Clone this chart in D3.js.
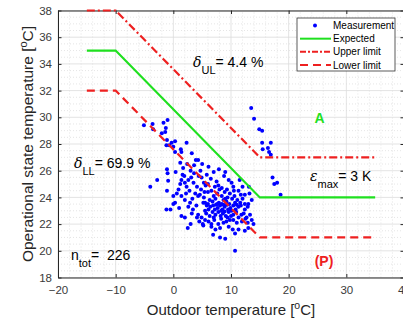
<!DOCTYPE html>
<html>
<head>
<meta charset="utf-8">
<script src="https://cdn.jsdelivr.net/npm/d3@7"></script>
<style>
  body { margin: 0; background: #fff; }
  svg { display: block; font-family: "Liberation Sans", Arial, sans-serif; }
</style>
</head>
<body>
<div id="chart"></div>
<script>
// --- data ---
const xTicks = [-20, -10, 0, 10, 20, 30, 40];
const yTicks = [18, 20, 22, 24, 26, 28, 30, 32, 34, 36, 38];

// piecewise lines: [outdoor temp, operational temp]
const expected   = [[-15, 35], [-10, 35], [15, 24], [35, 24]];
const upperLimit = [[-15, 38], [-10, 38], [15, 27], [35, 27]];
const lowerLimit = [[-15, 32], [-10, 32], [15, 21], [35, 21]];

// measurements (estimated from the scatter)
const measurement = [
  // upper-left group
  [-5.1,29.4],[-3.6,29.5],[-3.5,29.1],[-2.0,28.8],[-1.7,29.6],[-1.3,29.2],[-1.0,29.8],[-1.4,28.9],[-1.1,28.3],[-0.7,27.9],
  [-0.3,28.1],[0.0,27.8],[0.3,28.2],[1.3,27.6],[2.3,28.1],[1.4,27.4],[3.2,27.3],[3.9,26.8],[0.3,27.4],[-1.2,27.9],
  // left band
  [1.2,26.6],[-1.1,26.1],[-1.0,25.8],[-0.9,25.25],[-1.1,24.5],[-4.0,24.8],[-2.8,25.3],[-1.2,23.1],[-0.5,23.1],[0.3,23.6],
  [0.6,24.3],[0.9,24.6],[0.0,24.1],[1.2,25.0],[1.4,25.3],[1.6,25.7],[1.9,25.6],[2.0,25.1],[2.3,24.8],[2.6,25.3],
  [3.1,25.5],[3.5,25.1],[4.1,24.8],[3.8,24.3],[4.3,24.1],[1.4,24.1],[2.0,23.8],[2.6,23.3],[1.4,22.6],[2.0,22.5],
  [3.2,22.8],[4.1,22.5],[4.5,22.2],[0.0,23.5],[1.7,26.2],[2.4,26.5],[3.0,26.0],[2.8,24.5],[3.3,23.9],[1.0,23.2],
  [2.2,24.3],[3.6,25.8],[4.4,25.6],[2.9,23.6],[0.4,25.9],
  // main cluster
  [4.3,26.8],[6.1,26.3],[5.0,26.5],[7.9,26.1],
  [4.9,25.5],[5.8,25.7],[7.5,25.2],[6.5,25.4],[8.8,25.6],[10.1,25.1],[5.3,25.1],[9.6,25.3],
  [7.2,24.8],[7.8,24.9],[9.3,24.6],[11.3,24.5],[6.6,24.5],[8.4,24.7],[5.6,24.9],[10.4,24.8],[4.8,24.6],
  [12.4,24.2],[9.8,24.3],[8.4,24.1],[4.6,24.2],[6.0,24.4],[7.0,24.1],[7.6,24.3],[8.9,24.4],[10.6,24.1],[11.7,24.2],
  [5.3,24.0],[9.4,24.0],[13.2,24.3],
  [6.3,23.8],[5.5,23.6],[10.7,23.6],[12.4,23.5],[13.6,23.8],[5.2,23.6],[8.4,23.5],[13.0,23.5],[6.8,23.7],[7.3,23.9],
  [7.9,23.6],[8.7,23.8],[9.2,23.7],[9.7,23.5],[10.2,23.9],[11.1,23.8],[11.6,23.6],[12.0,23.9],[6.0,23.5],[7.6,23.5],[9.0,23.9],
  [9.5,23.1],[11.3,23.3],[12.4,23.1],[5.5,23.0],[7.2,23.1],[6.4,23.3],[6.9,23.4],[7.7,23.2],[8.1,23.4],[8.5,23.1],
  [8.9,23.3],[9.3,23.45],[9.9,23.2],[10.4,23.4],[10.8,23.1],[11.7,23.4],[12.9,23.3],[7.4,23.45],[8.3,23.0],[6.1,23.1],
  [10.1,23.0],[5.8,23.4],[8.7,23.45],[11.0,23.45],
  [11.8,22.7],[10.4,22.7],[12.7,22.5],[4.3,22.7],[4.9,22.5],[5.7,22.8],[6.3,22.6],[6.8,22.9],[7.3,22.7],[7.8,22.9],
  [8.2,22.6],[8.6,22.8],[9.1,22.6],[9.6,22.9],[10.0,22.6],[10.9,22.9],[11.3,22.5],[12.2,22.8],[13.3,22.7],[7.0,22.5],
  [8.9,22.95],[9.4,22.5],
  [9.8,22.3],[8.7,22.1],[7.8,22.0],[6.1,22.2],[13.6,22.3],[13.9,22.0],[5.5,22.3],[7.1,22.3],[8.3,22.4],[9.2,22.2],
  [10.4,22.3],[11.0,22.1],[11.9,22.2],[12.5,22.4],[6.6,22.0],
  [6.6,21.8],[11.3,21.6],[12.4,21.5],[13.0,21.7],[8.1,21.7],[9.6,21.8],[10.3,21.6],[5.2,21.9],[7.3,21.6],
  [8.1,21.0],[9.0,20.9],[6.9,21.2],[10.7,21.3],
  [10.7,20.0],
  // right group
  [13.5,30.7],[14.0,29.9],[14.9,29.1],[15.4,29.0],[15.4,28.1],[15.5,27.6],[16.4,27.7],[16.9,28.1],[16.6,27.4],[16.9,27.2],
  [17.2,25.5],[17.5,25.0],[18.0,25.1],[18.6,24.2],
  // extra scattered
  [3.6,26.4],[4.7,26.0],[5.4,24.4],[3.0,22.0],[2.5,21.7],[6.0,25.0],[12.0,24.8],[13.1,24.8],[11.5,25.3],[9.0,25.9],
  [4.0,23.4],[3.4,23.1],[5.1,22.0],[12.9,22.1],[10.5,24.5],[8.0,24.6],[7.0,25.9]
];

const legendLabels = ["Measurement", "Expected", "Upper limit", "Lower limit"];

// --- setup ---
const width = 403, height = 321;
const axisColor = "#262626";
const green = "#1fe01f", red = "#ee2020", blue = "#0000ff";

const x = d3.scaleLinear().domain([-20, 40]).range([58, 404]);
const y = d3.scaleLinear().domain([18, 38]).range([277.5, 10.5]);

const svg = d3.select("#chart").append("svg")
    .attr("width", width)
    .attr("height", height);

// grid: minor dotted, major solid
const xMinor = d3.range(-20, 40.01, 2).filter(v => v % 10 !== 0);
const yMinor = d3.range(18, 38.01, 0.5).filter(v => Math.abs(v % 2) > 0.01);

svg.append("g").selectAll("line").data(xMinor).join("line")
    .attr("x1", d => x(d)).attr("x2", d => x(d))
    .attr("y1", y(18)).attr("y2", y(38))
    .attr("stroke", "#d4d4d4").attr("stroke-width", 0.6)
    .attr("stroke-dasharray", "1,2");
svg.append("g").selectAll("line").data(yMinor).join("line")
    .attr("x1", x(-20)).attr("x2", x(40))
    .attr("y1", d => y(d)).attr("y2", d => y(d))
    .attr("stroke", "#d4d4d4").attr("stroke-width", 0.6)
    .attr("stroke-dasharray", "1,2");
svg.append("g").selectAll("line").data(xTicks).join("line")
    .attr("x1", d => x(d)).attr("x2", d => x(d))
    .attr("y1", y(18)).attr("y2", y(38))
    .attr("stroke", "#dcdcdc").attr("stroke-width", 0.8);
svg.append("g").selectAll("line").data(yTicks).join("line")
    .attr("x1", x(-20)).attr("x2", x(40))
    .attr("y1", d => y(d)).attr("y2", d => y(d))
    .attr("stroke", "#dcdcdc").attr("stroke-width", 0.8);

// axes (ticks inside, box on)
const styleAxis = g => {
  g.select(".domain").attr("stroke", axisColor);
  g.selectAll(".tick line").attr("stroke", axisColor);
  g.selectAll(".tick text").attr("fill", "#3a3a3a")
    .attr("font-size", "11.5px").attr("font-family", "Liberation Sans, Arial, sans-serif");
};
svg.append("g").attr("transform", `translate(0,${y(18)})`)
    .call(d3.axisBottom(x).tickValues(xTicks).tickSize(-3.5).tickPadding(8).tickSizeOuter(0))
    .call(styleAxis);
svg.append("g").attr("transform", `translate(${x(-20)},0)`)
    .call(d3.axisLeft(y).tickValues(yTicks).tickSize(-3.5).tickPadding(6).tickSizeOuter(0))
    .call(styleAxis);
svg.append("g").attr("transform", `translate(0,${y(38)})`)
    .call(d3.axisTop(x).tickValues(xTicks).tickSize(-3.5).tickFormat("").tickSizeOuter(0))
    .call(styleAxis);
svg.append("g").attr("transform", `translate(${x(40)},0)`)
    .call(d3.axisRight(y).tickValues(yTicks).tickSize(-3.5).tickFormat("").tickSizeOuter(0))
    .call(styleAxis);

// measurements
svg.append("g").selectAll("circle").data(measurement).join("circle")
    .attr("cx", d => x(d[0]))
    .attr("cy", d => y(d[1]))
    .attr("r", 2)
    .attr("fill", blue);

// limit lines
const line = d3.line().x(d => x(d[0])).y(d => y(d[1]));
svg.append("path").datum(expected).attr("d", line)
    .attr("fill", "none").attr("stroke", green).attr("stroke-width", 2.2);
svg.append("path").datum(upperLimit).attr("d", line)
    .attr("fill", "none").attr("stroke", red).attr("stroke-width", 2.2)
    .attr("stroke-dasharray", "8,3,2,3");
svg.append("path").datum(lowerLimit).attr("d", line)
    .attr("fill", "none").attr("stroke", red).attr("stroke-width", 2.2)
    .attr("stroke-dasharray", "8,5");

// annotations
function subText(xp, yp, main, sub, rest, italicMain) {
  const t = svg.append("text").attr("x", xp).attr("y", yp)
      .attr("font-size", "14px").attr("fill", "#000")
      .style("white-space", "pre");
  t.append("tspan").text(main).attr("font-style", italicMain ? "italic" : null)
      .attr("font-family", italicMain ? "DejaVu Serif, serif" : null);
  t.append("tspan").text(sub).attr("font-size", "11px").attr("dy", 7);
  t.append("tspan").text(rest).attr("dy", -7);
}
subText(193, 67, "δ", "UL", "= 4.4 %", true);
subText(74, 168, "δ", "LL", "= 69.9 %", true);
subText(71, 260, "n", "tot", "=\u00a0\u00a0226", false);
subText(310, 181, "ε", "max", "= 3 K", true);

svg.append("text").attr("x", 319.5).attr("y", 123).attr("text-anchor", "middle")
    .attr("font-size", "14px").attr("font-weight", "bold").attr("fill", green).text("A");
svg.append("text").attr("x", 324).attr("y", 266).attr("text-anchor", "middle")
    .attr("font-size", "14px").attr("font-weight", "bold").attr("fill", red).text("(P)");

// axis labels
const xl = svg.append("text").attr("x", 231).attr("y", 315).attr("text-anchor", "middle")
    .attr("font-size", "15px").attr("fill", axisColor);
xl.append("tspan").text("Outdoor temperature [");
xl.append("tspan").text("o").attr("font-size", "10.5px").attr("dy", -6);
xl.append("tspan").text("C]").attr("dy", 6);

const yl = svg.append("text").attr("transform", "translate(33,144) rotate(-90)")
    .attr("text-anchor", "middle").attr("font-size", "15.5px").attr("fill", axisColor);
yl.append("tspan").text("Operational state temperature [");
yl.append("tspan").text("o").attr("font-size", "11px").attr("dy", -6);
yl.append("tspan").text("C]").attr("dy", 6);

// legend
const lg = svg.append("g");
lg.append("rect").attr("x", 297).attr("y", 18).attr("width", 98).attr("height", 53)
    .attr("fill", "#fff").attr("stroke", "#333").attr("stroke-width", 0.8);
const rowY = d3.scalePoint().domain(legendLabels).range([25.5, 65]);
lg.append("circle").attr("cx", 315).attr("cy", rowY("Measurement")).attr("r", 2).attr("fill", blue);
const legendStyles = [
  ["Expected", green, null],
  ["Upper limit", red, "6,2,2,2"],
  ["Lower limit", red, "8,5"]
];
legendStyles.forEach(([name, col, dash]) => {
  lg.append("line").attr("x1", 300).attr("x2", 331)
    .attr("y1", rowY(name)).attr("y2", rowY(name))
    .attr("stroke", col).attr("stroke-width", 2).attr("stroke-dasharray", dash);
});
lg.selectAll("text.lbl").data(legendLabels).join("text")
    .attr("class", "lbl")
    .attr("x", 333).attr("y", d => rowY(d) + 3.5)
    .attr("font-size", "10px").attr("fill", "#000")
    .text(d => d);
</script>
</body>
</html>
